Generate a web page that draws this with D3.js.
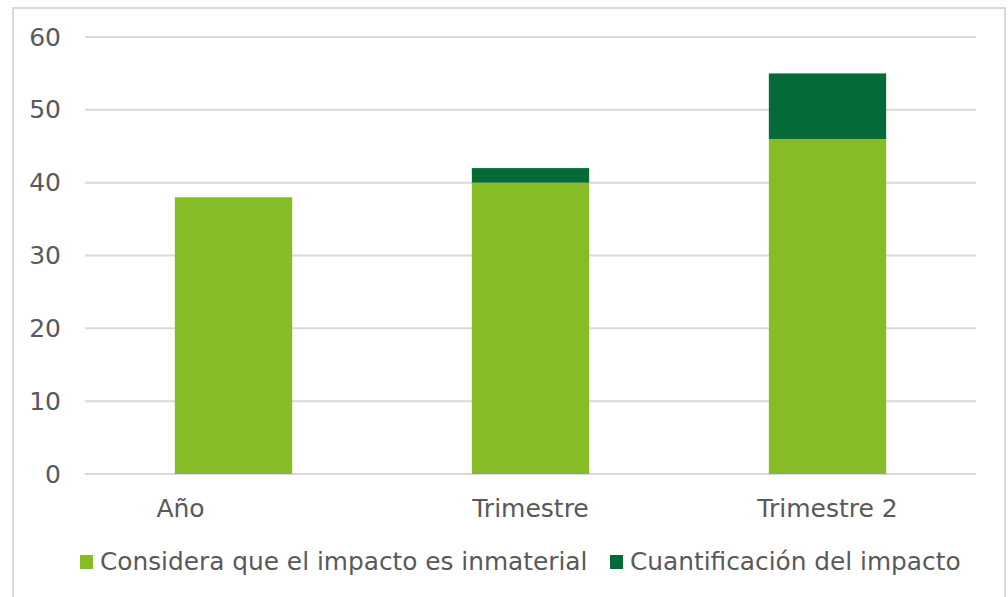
<!DOCTYPE html>
<html>
<head>
	<script src="https://cdn.jsdelivr.net/npm/d3@7"></script>
	<style>
		html, body { margin: 0; padding: 0; background: white; }
		svg text { font-family: "DejaVu Sans", Verdana, sans-serif; fill: #595959; }
	</style>
</head>
<body>
<div id="chart"></div>
<script>
	// data
	var categories = ["Año", "Trimestre", "Trimestre 2"];
	var inmaterial = [38, 40, 46];
	var cuantificacion = [0, 2, 9];
	var seriesNames = ["Considera que el impacto es inmaterial", "Cuantificación del impacto"];
	var yTicks = [0, 10, 20, 30, 40, 50, 60];

	var colors = ["#86bc25", "#046a38"];
	var width = 1008, height = 597;
	var plotLeft = 85, plotRight = 976, plotTop = 37, plotBottom = 474;

	var svg = d3.select("#chart").append("svg")
		.attr("width", width)
		.attr("height", height);

	// outer frame
	svg.append("rect")
		.attr("x", 13).attr("y", 8)
		.attr("width", 992).attr("height", 600)
		.attr("fill", "none")
		.attr("stroke", "#d9d9d9")
		.attr("stroke-width", 2);

	var x = d3.scaleBand().domain(categories).range([plotLeft, plotRight]).paddingInner(0.605).paddingOuter(0.3025);
	var y = d3.scaleLinear().domain([0, 60]).range([plotBottom, plotTop]);

	// gridlines
	svg.append("g").selectAll("line")
		.data(yTicks)
		.enter().append("line")
		.attr("x1", plotLeft).attr("x2", plotRight)
		.attr("y1", function(d) { return y(d); })
		.attr("y2", function(d) { return y(d); })
		.attr("stroke", "#d9d9d9")
		.attr("stroke-width", 2);

	// y axis labels
	var yAxis = d3.axisLeft(y).tickValues(yTicks).tickSize(0).tickPadding(0);
	var ya = svg.append("g").attr("transform", "translate(61,0)").call(yAxis);
	ya.select(".domain").remove();
	ya.selectAll("text").style("font-size", "25px").attr("font-family", null).attr("fill", null);

	// x axis labels (the first label sits left of its bar in the original)
	var xAxis = d3.axisBottom(x).tickSize(0).tickPadding(0);
	var xa = svg.append("g").attr("transform", "translate(0,517)").call(xAxis);
	xa.select(".domain").remove();
	xa.selectAll("text").style("font-size", "25px").attr("dy", "0")
		.attr("dx", function(d, i) { return i === 0 ? -53 : 0; })
		.attr("font-family", null).attr("fill", null);

	// stacked bars
	var rows = categories.map(function(c, i) {
		return { cat: c, inmaterial: inmaterial[i], cuantificacion: cuantificacion[i] };
	});
	var stack = d3.stack().keys(["inmaterial", "cuantificacion"])(rows);

	svg.append("g").selectAll("g")
		.data(stack)
		.enter().append("g")
		.attr("fill", function(d, i) { return colors[i]; })
		.selectAll("rect")
		.data(function(d) { return d.filter(function(p) { return p[1] - p[0] > 0; }); })
		.enter().append("rect")
		.attr("x", function(d) { return x(d.data.cat); })
		.attr("width", x.bandwidth())
		.attr("y", function(d) { return y(d[1]); })
		.attr("height", function(d) { return y(d[0]) - y(d[1]); });

	// legend
	var legendX = [80, 610];
	var lg = svg.append("g").selectAll("g")
		.data(seriesNames)
		.enter().append("g")
		.attr("transform", function(d, i) { return "translate(" + legendX[i] + ",555)"; });
	lg.append("rect")
		.attr("width", 13).attr("height", 14)
		.attr("fill", function(d, i) { return colors[i]; });
	lg.append("text")
		.attr("x", 20).attr("y", 15)
		.style("font-size", "24.8px")
		.text(function(d) { return d; });
</script>
</body>
</html>
